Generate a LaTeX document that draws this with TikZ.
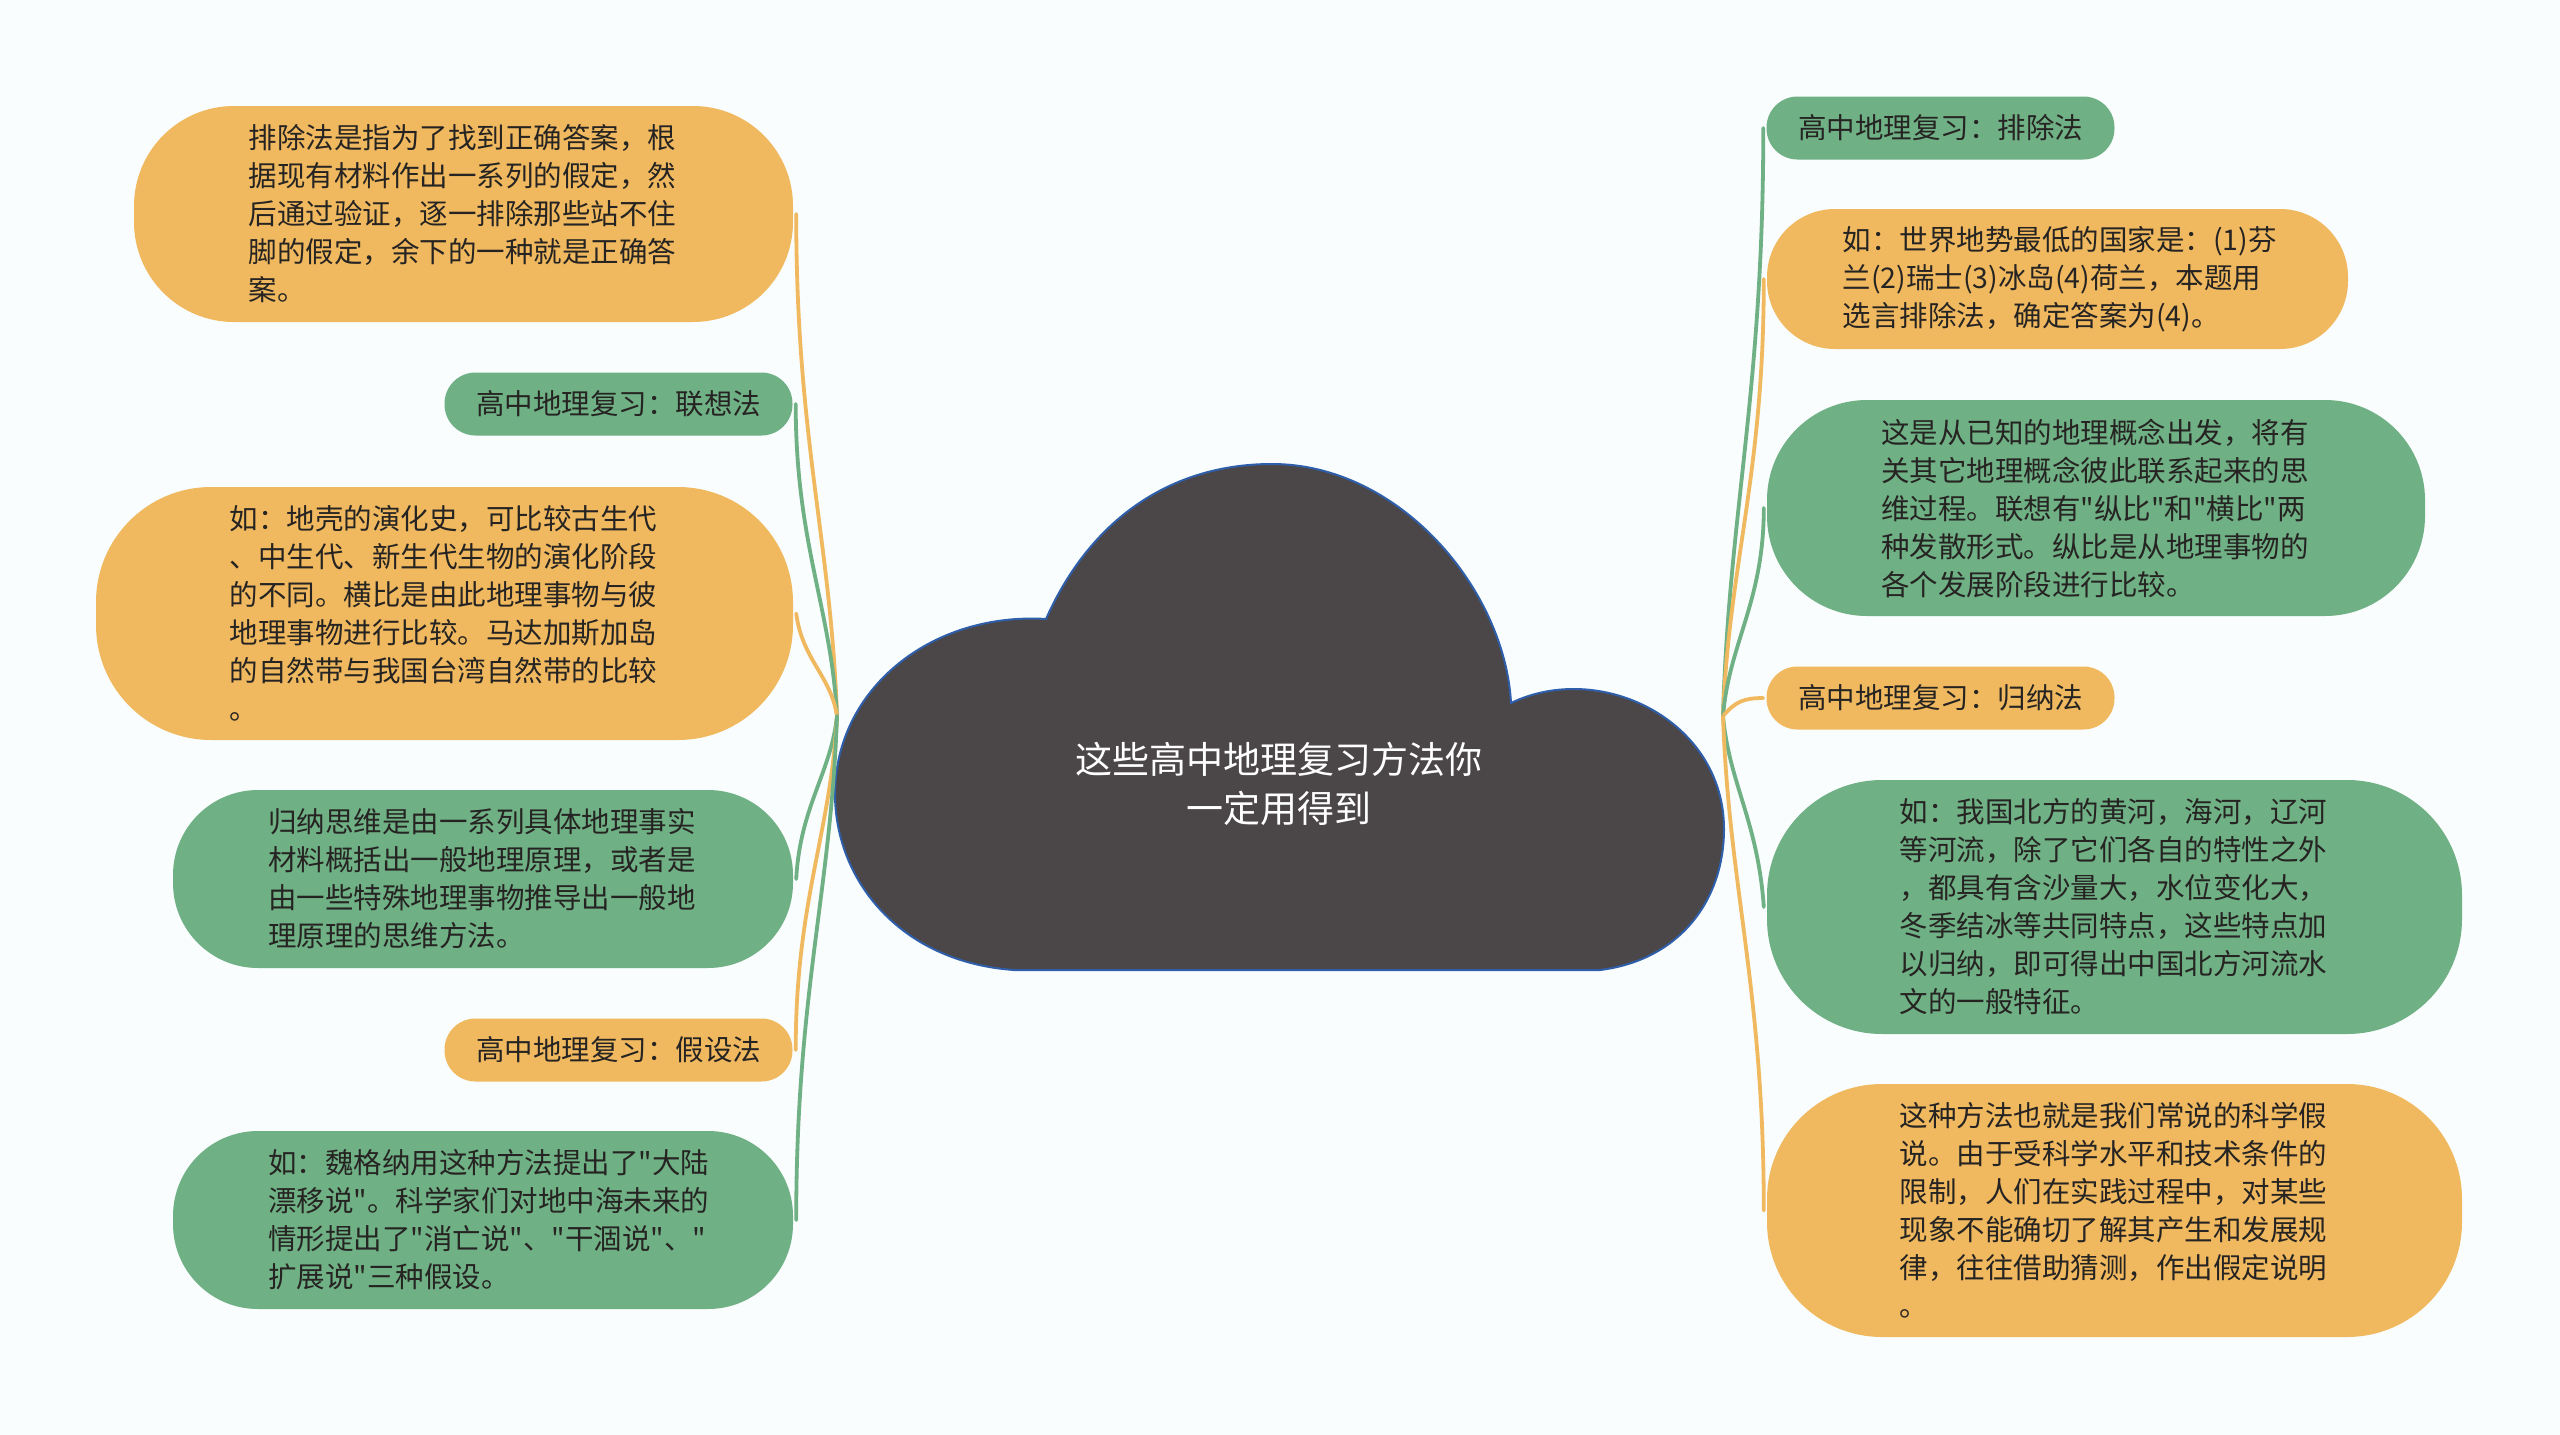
\documentclass[tikz,border=0pt]{standalone}
\usepackage{fontspec}
\setmainfont{Noto Sans CJK SC}[Ligatures=TeXOff]
\usetikzlibrary{calc}
\newcommand\qq{\symbol{34}}
\definecolor{orgc}{RGB}{240,185,96}
\definecolor{grnc}{RGB}{111,176,133}
\definecolor{cloudc}{RGB}{75,70,71}
\definecolor{cloudb}{RGB}{47,95,170}
\definecolor{bgc}{RGB}{249,253,253}
\definecolor{txtc}{RGB}{38,36,34}
\tikzset{
  box/.style={rounded corners=#1, inner sep=0pt, align=left, text=txtc,
    font=\fontsize{28.5}{38}\selectfont},
  box/.default=31pt,
  big/.style={text width=430pt},
  small/.style={minimum width=348pt, minimum height=63pt, align=center},
  org/.style={fill=orgc},
  grn/.style={fill=grnc},
  linko/.style={draw=orgc, line width=3.8pt, line cap=round},
  linkg/.style={draw=grnc, line width=3.8pt, line cap=round},
}
\begin{document}
\begin{tikzpicture}[x=1pt, y=-1pt]
\useasboundingbox[fill=bgc] (0,0) rectangle (2560,1435);
% cloud
\path[fill=cloudc, draw=cloudb, line width=2pt]
  (1014,970) .. controls (900,962) and (835,880) .. (835,794)
  .. controls (835,690) and (930,612) .. (1046,619)
  .. controls (1090,520) and (1170,464) .. (1272,464)
  .. controls (1400,464) and (1505,590) .. (1511,703)
  .. controls (1600,660) and (1724,720) .. (1724,829)
  .. controls (1724,900) and (1680,960) .. (1600,970)
  -- cycle;
\node[text=white, align=center, font=\fontsize{37}{49}\selectfont] (root) at (1279,784) {这些高中地理复习方法你\\一定用得到};
\coordinate (hubL) at (837,716);
\coordinate (hubR) at (1723,716);
% left nodes
\node[box=100pt, big, org, minimum width=659pt, minimum height=216pt] (n1) at (463.5,214) {排除法是指为了找到正确答案，根\\据现有材料作出一系列的假定，然\\后通过验证，逐一排除那些站不住\\脚的假定，余下的一种就是正确答\\案。};
\node[box, small, grn] (n2) at (618.5,404) {高中地理复习：联想法};
\node[box=115pt, big, org, minimum width=697pt, minimum height=253pt] (n3) at (444.5,613.5) {如：地壳的演化史，可比较古生代\\、中生代、新生代生物的演化阶段\\的不同。横比是由此地理事物与彼\\地理事物进行比较。马达加斯加岛\\的自然带与我国台湾自然带的比较\\。};
\node[box=85pt, big, grn, minimum width=620pt, minimum height=178pt] (n4) at (483,879) {归纳思维是由一系列具体地理事实\\材料概括出一般地理原理，或者是\\由一些特殊地理事物推导出一般地\\理原理的思维方法。};
\node[box, small, org] (n5) at (618.5,1050) {高中地理复习：假设法};
\node[box=85pt, big, grn, minimum width=620pt, minimum height=178pt] (n6) at (483,1220) {如：魏格纳用这种方法提出了\qq{}大陆\\漂移说\qq{}。科学家们对地中海未来的\\情形提出了\qq{}消亡说\qq{}、\qq{}干涸说\qq{}、\qq{}\\扩展说\qq{}三种假设。};
% right nodes
\node[box, small, grn] (n7) at (1940.5,128) {高中地理复习：排除法};
\node[box=68pt, big, org, minimum width=581pt, minimum height=140pt] (n8) at (2057.5,279) {如：世界地势最低的国家是：(1)芬\\兰(2)瑞士(3)冰岛(4)荷兰，本题用\\选言排除法，确定答案为(4)。};
\node[box=100pt, big, grn, minimum width=658pt, minimum height=216pt] (n9) at (2096,508) {这是从已知的地理概念出发，将有\\关其它地理概念彼此联系起来的思\\维过程。联想有\qq{}纵比\qq{}和\qq{}横比\qq{}两\\种发散形式。纵比是从地理事物的\\各个发展阶段进行比较。};
\node[box, small, org] (n10) at (1940.5,698) {高中地理复习：归纳法};
\node[box=115pt, big, grn, minimum width=695pt, minimum height=254pt] (n11) at (2114.5,907) {如：我国北方的黄河，海河，辽河\\等河流，除了它们各自的特性之外\\，都具有含沙量大，水位变化大，\\冬季结冰等共同特点，这些特点加\\以归纳，即可得出中国北方河流水\\文的一般特征。};
\node[box=115pt, big, org, minimum width=695pt, minimum height=253pt] (n12) at (2114.5,1210.5) {这种方法也就是我们常说的科学假\\说。由于受科学水平和技术条件的\\限制，人们在实践过程中，对某些\\现象不能确切了解其产生和发展规\\律，往往借助猜测，作出假定说明\\。};
% connectors left
\draw[linko] (hubL) .. controls +(-6,-176) and +(0,226) .. ([xshift=3pt]n1.east);
\draw[linkg] (hubL) .. controls +(-6,-109) and +(0,140) .. ([xshift=3pt]n2.east);
\draw[linko] (hubL) .. controls +(-6,-40) and +(6,46) .. ([xshift=3pt]n3.east);
\draw[linkg] (hubL) .. controls +(-6,57) and +(4,-73) .. ([xshift=3pt]n4.east);
\draw[linko] (hubL) .. controls +(-6,117) and +(0,-150) .. ([xshift=3pt]n5.east);
\draw[linkg] (hubL) .. controls +(-6,176) and +(0,-227) .. ([xshift=3pt]n6.east);
% connectors right
\draw[linkg] (hubR) .. controls +(6,-206) and +(0,265) .. ([xshift=-3pt]n7.west);
\draw[linko] (hubR) .. controls +(6,-153) and +(0,197) .. ([xshift=-3pt]n8.west);
\draw[linkg] (hubR) .. controls +(6,-73) and +(0,94) .. ([xshift=-3pt]n9.west);
\draw[linko] (hubR) .. controls +(12,-14) and +(-20,0) .. ([xshift=-3pt]n10.west);
\draw[linkg] (hubR) .. controls +(6,67) and +(-6,-86) .. ([xshift=-3pt]n11.west);
\draw[linko] (hubR) .. controls +(6,173) and +(0,-222) .. ([xshift=-3pt]n12.west);
\end{tikzpicture}
\end{document}
